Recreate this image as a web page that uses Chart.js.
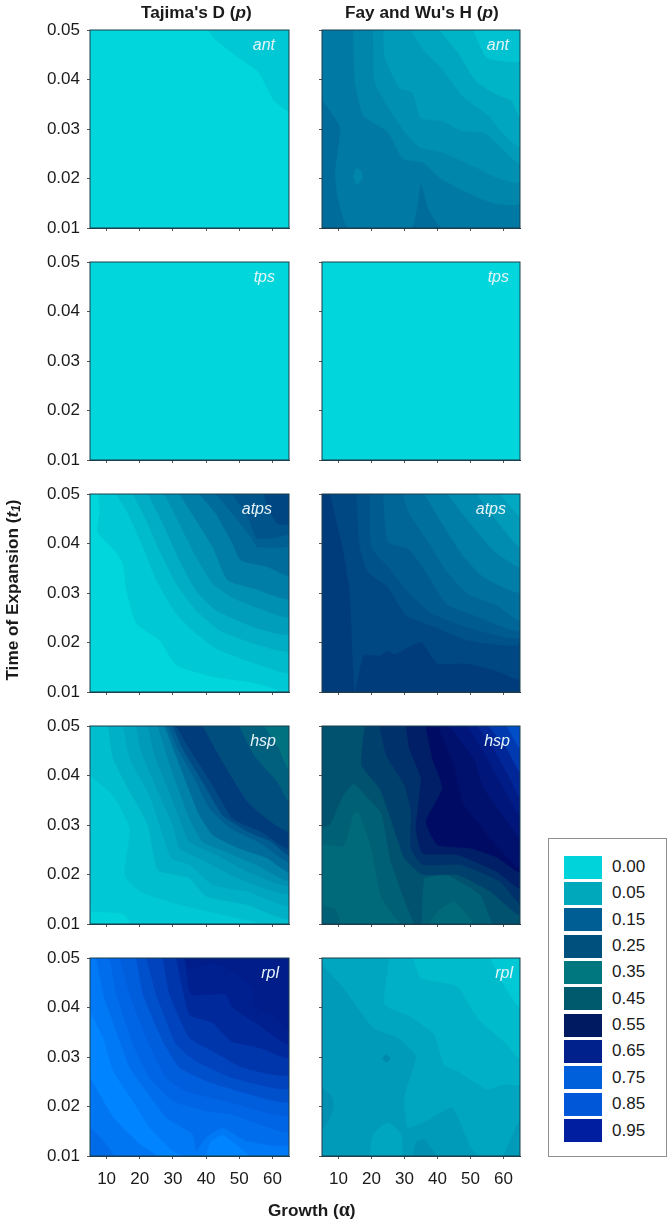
<!DOCTYPE html>
<html>
<head>
<meta charset="utf-8">
<style>
    html, body { margin: 0; padding: 0; background: #fff; }
    body { position: relative; width: 672px; height: 1224px; overflow: hidden; font-family: "Liberation Sans", Arial, sans-serif; color: #1a1a1a; }
    canvas { position: absolute; }
    .txt { position: absolute; white-space: nowrap; }
    .head { font-weight: bold; font-size: 17.2px; }
    .gene { font-style: italic; font-size: 16px; color: #e4f4f8; transform: translateX(-100%); }
    .key { position: absolute; left: 548px; top: 838px; width: 117px; height: 317px; border: 1px solid #8f8f8f; }
    .swatch { position: absolute; left: 564px; width: 38px; height: 23px; }
    .keytxt { font-size: 17px; left: 612px; }
</style>
<script src="https://cdn.jsdelivr.net/npm/chart.js@4/dist/chart.umd.min.js"></script>
</head>
<body>
<script>
    // each contour: [p value, outline in (growth, time) units], painted in order
    const square = [[5, .01], [65, .01], [65, .05], [5, .05]];

    const tajAnt = [
        [0, square],
        [.02, [[40.7, .05], [42.2, .0485], [48.2, .0452], [55.8, .0415], [60.4, .0358], [65, .0337], [65, .05]]]
    ];
    const tajTps = [[0, square]];
    const tajAtps = [
        [0, square],
        [.02, [[7.5, .05], [8, .0467], [7.3, .0423], [12.5, .0386], [15, .0359], [16, .0305], [19, .0238], [26, .0205], [31, .0154], [42, .0131], [53.5, .012], [60.5, .0107], [62.5, .01], [65, .01], [65, .05]]],
        [.04, [[13, .05], [16.5, .046], [21, .0393], [25, .0326], [31, .0258], [37, .0218], [43, .0188], [53.5, .0161], [65, .0141], [65, .05]]],
        [.06, [[18, .05], [22, .0447], [26, .0386], [31, .0319], [37, .0265], [44, .0225], [54.5, .0198], [65, .0184], [65, .05]]],
        [.08, [[22.5, .05], [27, .044], [32, .0366], [37, .0305], [43, .0265], [54.5, .0231], [65, .0218], [65, .05]]],
        [.10, [[27.5, .05], [32, .044], [37, .0373], [42, .0319], [47.5, .0292], [56.5, .0268], [65, .0252], [65, .05]]],
        [.125, [[32, .05], [37, .0447], [42, .0393], [46.5, .0326], [54.5, .0309], [65, .0289], [65, .05]]],
        [.15, [[38, .05], [43, .046], [48, .04], [50.5, .0366], [58.5, .0353], [65, .0336], [65, .05]]],
        [.175, [[43, .05], [48, .046], [53.5, .0413], [55.5, .0393], [65, .0396], [65, .05]]],
        [.20, [[48, .05], [52.5, .0454], [55.5, .041], [65, .042], [65, .05]]],
        [.23, [[57.5, .05], [58.5, .0474], [61.5, .044], [65, .044], [65, .05]]]
    ];
    const tajHsp = [
        [.02, square],
        [.004, [[5, .0125], [15, .012], [17, .01], [5, .01]]],
        [.035, [[5, .04], [12, .036], [17, .0293], [15.5, .0199], [20, .0166], [32, .0139], [45, .0119], [58, .01], [65, .01], [65, .05], [5, .05]]],
        [.055, [[10.5, .05], [12, .0434], [16.5, .0374], [22.5, .03], [25.5, .0209], [35, .0193], [40, .0156], [52.5, .0139], [65, .0112], [65, .05]]],
        [.07, [[15, .05], [17, .0434], [23, .036], [26, .03], [29.5, .0233], [35, .022], [42, .0179], [52.5, .0166], [65, .0139], [65, .05]]],
        [.085, [[19, .05], [20.5, .0448], [26, .036], [30, .03], [32, .0253], [40, .0226], [49.5, .0193], [65, .0163], [65, .05]]],
        [.10, [[22.5, .05], [24.5, .0441], [28.5, .0374], [32, .0313], [35, .0266], [43, .024], [52.5, .0206], [65, .0179], [65, .05]]],
        [.12, [[25.5, .05], [28.5, .0434], [32, .0367], [35, .0313], [39, .0266], [46, .0246], [55, .022], [65, .0189], [65, .05]]],
        [.15, [[27.5, .05], [30.5, .0448], [34, .0387], [38, .032], [42, .028], [50, .0253], [58.5, .0233], [65, .0206], [65, .05]]],
        [.18, [[28.5, .05], [31.5, .0454], [36.5, .0394], [41, .0334], [47.5, .0293], [56.5, .0263], [65, .0226], [65, .05]]],
        [.22, [[30, .05], [33, .0454], [39, .0387], [45, .032], [52.5, .0287], [59.5, .0267], [65, .024], [65, .05]]],
        [.25, [[31, .05], [35, .0454], [42, .0381], [48, .0313], [56.5, .0287], [65, .0253], [65, .05]]],
        [.28, [[39, .05], [45, .0428], [52.5, .0347], [59.5, .0307], [65, .0287], [65, .05]]],
        [.31, [[50, .05], [54.5, .0441], [61.5, .0387], [65, .0347], [65, .05]]],
        [.34, [[57.5, .05], [62, .0454], [65, .041], [65, .05]]]
    ];
    const tajRpl = [
        [.85, square],
        [.81, [[5, .0258], [12, .0178], [20, .0124], [25, .01], [5, .01]]],
        [.78, [[5, .0158], [9, .0131], [12, .01], [5, .01]]],
        [.82, [[5, .0393], [9, .0339], [12, .0272], [18, .0211], [23, .0157], [30, .011], [34, .01], [65, .01], [65, .05], [5, .05]]],
        [.85, [[40, .01], [41.5, .013], [45, .0142], [49, .0122], [53, .01]]],
        [.79, [[7, .05], [9, .0427], [12.5, .036], [17, .0279], [22, .0231], [28, .0178], [36, .0144], [37, .011], [40, .0138], [45, .0157], [52, .0131], [65, .0124], [65, .05]]],
        [.765, [[11, .05], [13, .0427], [18, .0326], [23, .0258], [30, .0211], [40, .0191], [48, .0184], [65, .0151], [65, .05]]],
        [.745, [[14, .05], [17, .0427], [22, .0339], [28, .0258], [34, .0231], [46, .0211], [65, .0184], [65, .05]]],
        [.725, [[19, .05], [21, .0427], [27, .0332], [32, .0279], [40, .0252], [50, .0231], [65, .0211], [65, .05]]],
        [.705, [[22, .05], [25, .0427], [31, .0326], [37, .0292], [48, .0258], [65, .0238], [65, .05]]],
        [.685, [[27, .05], [29, .0427], [35, .0339], [42, .0312], [51, .0279], [65, .0265], [65, .05]]],
        [.665, [[31, .05], [35, .0386], [42, .0369], [47.5, .0332], [56, .0319], [65, .0299], [65, .05]]],
        [.65, [[33.5, .05], [35.5, .0427], [46, .0427], [48, .04], [55.5, .0366], [65, .0326], [65, .05]]],
        [.635, [[34, .05], [35, .048], [42, .0491], [48, .0474], [54, .044], [55, .0403], [60, .0386], [65, .0359], [65, .05]]]
    ];

    const fayAnt = [
        [.15, square],
        [.13, [[5, .05], [5, .0364], [10.5, .0304], [9, .021], [10, .0156], [13, .01], [32, .01], [35, .0189], [37.5, .0135], [41.5, .01], [65, .01], [65, .05]]],
        [.115, [[14.5, .0205], [15.5, .022], [17, .0215], [17.2, .02], [15.5, .0187]]],
        [.115, [[14.5, .05], [15, .0395], [17.5, .0328], [25, .0294], [29.5, .024], [35.5, .0233], [41, .02], [48.5, .0173], [57, .015], [65, .015], [65, .05]]],
        [.10, [[20.5, .05], [21, .0395], [25, .0345], [30, .0295], [34.5, .0264], [41.5, .0253], [51.5, .0223], [57.5, .0203], [65, .0193], [65, .05]]],
        [.085, [[23.7, .05], [24, .0445], [28.5, .0383], [32.5, .0373], [35, .0322], [41.5, .0316], [47.5, .0296], [54.5, .0292], [65, .0231], [65, .05]]],
        [.07, [[32, .05], [36, .0458], [41, .0425], [48, .0364], [55.5, .0327], [60, .029], [65, .0264], [65, .05]]],
        [.05, [[40.7, .05], [46.5, .0452], [51.5, .0398], [57.5, .0371], [62.5, .0357], [65, .0324], [65, .05]]],
        [.03, [[50.8, .05], [55, .0444], [65, .0437], [65, .05]]]
    ];
    const fayTps = [[0, square]];
    const fayAtps = [
        [.25, square],
        [.225, [[7.5, .05], [11.5, .0386], [13.5, .03], [15, .01], [17.5, .0174], [22.5, .0174], [25, .0184], [27, .0177], [35, .0201], [40, .0158], [48.5, .0158], [57.5, .0144], [65, .0127], [65, .05]]],
        [.205, [[15.5, .05], [16.5, .0393], [19, .0342], [25, .0312], [30.5, .0255], [39.5, .0231], [49, .0205], [65, .0198], [65, .05]]],
        [.185, [[19.5, .05], [20, .0393], [25, .0353], [31.5, .0299], [38.5, .0258], [49, .0231], [65, .0211], [65, .05]]],
        [.165, [[23.5, .05], [25, .0403], [31, .039], [35.5, .0353], [42.5, .0279], [51, .0255], [65, .0225], [65, .05]]],
        [.145, [[29.5, .05], [31.5, .046], [37.5, .04], [42.5, .0346], [49, .0299], [58, .0275], [65, .0245], [65, .05]]],
        [.125, [[36, .05], [41.5, .044], [48, .0373], [54, .0332], [65, .0302], [65, .05]]],
        [.105, [[43, .05], [50, .044], [57, .0386], [65, .0353], [65, .05]]],
        [.085, [[52, .05], [57, .0454], [65, .0393], [65, .05]]],
        [.065, [[59, .05], [65, .0454], [65, .05]]]
    ];
    const fayHsp = [
        [.39, square],
        [.42, [[5, .0137], [9, .013], [10.5, .01], [5, .01]]],
        [.42, [[5, .0262], [11.5, .0258], [14.5, .0322], [16, .0328], [20, .0253], [23, .0155], [29, .01], [37, .01], [40.5, .013], [45, .0145], [50, .0112], [51, .01], [65, .01], [65, .05], [5, .05]]],
        [.455, [[5, .0295], [7.5, .0302], [11, .0355], [14.5, .0384], [19.5, .0351], [23, .0324], [26, .0223], [33, .01], [35, .01], [36, .0192], [43, .0199], [53, .0159], [57, .01], [65, .01], [65, .05], [5, .05]]],
        [.48, [[18, .05], [17, .0421], [22.5, .0374], [25.5, .032], [30, .0233], [35.5, .02], [46, .02], [56, .0166], [65, .0119], [65, .05]]],
        [.50, [[22.5, .05], [24.5, .0441], [30, .0381], [32, .0327], [32, .0253], [35.5, .022], [47, .022], [59, .0186], [65, .0142], [65, .05]]],
        [.525, [[30.5, .05], [31.5, .0454], [35, .0394], [33.5, .0293], [35.5, .0243], [46, .024], [58, .0206], [65, .0173], [65, .05]]],
        [.55, [[36.5, .05], [38.5, .0434], [41.5, .0374], [36.5, .0307], [40, .026], [50, .0253], [58, .0235], [65, .0206], [65, .05]]],
        [.57, [[40, .05], [45, .0421], [47.5, .0347], [56, .0273], [65, .0213], [65, .05]]],
        [.60, [[43.5, .05], [51, .0434], [54, .0374], [62, .03], [65, .0273], [65, .05]]],
        [.63, [[49, .05], [54, .0448], [59, .0387], [65, .032], [65, .05]]],
        [.66, [[52, .05], [57, .0454], [62, .0394], [65, .0354], [65, .05]]],
        [.69, [[55.5, .05], [61, .0454], [65, .0407], [65, .05]]],
        [.72, [[61, .05], [65, .0454], [65, .05]]]
    ];
    const fayRpl = [
        [.085, square],
        [.10, [[5, .0238], [8, .022], [8.5, .0198], [6.5, .0165], [5, .0155]]],
        [.11, [[23.3, .0297], [24.5, .0305], [25.7, .0297], [24.5, .0289]]],
        [.10, [[32.5, .01], [33.5, .0127], [36, .0133], [39, .0107], [39.5, .01]]],
        [.07, [[19.5, .01], [20.5, .0144], [25, .0167], [29, .0144], [29, .01]]],
        [.07, [[5, .0487], [11.5, .044], [20.5, .0359], [28, .0339], [33.5, .0302], [30, .0218], [31, .0158], [36.5, .0171], [44.5, .0198], [50, .012], [52.5, .01], [65, .01], [65, .05], [5, .05]]],
        [.085, [[60, .01], [62, .0131], [65, .0171], [65, .01]]],
        [.055, [[25.5, .05], [24, .0406], [31.5, .0383], [39, .0346], [42, .0285], [46, .0272], [55, .0235], [60, .0245], [65, .0245], [65, .05]]],
        [.04, [[32.5, .05], [35, .046], [46, .0443], [51, .039], [54, .0366], [61, .0326], [65, .0295], [65, .05]]],
        [.02, [[56, .05], [60, .0447], [65, .04], [65, .05]]]
    ];

    const xTicks = [10, 20, 30, 40, 50, 60];
    const yTicks = [.01, .02, .03, .04, .05];
    const genes = ['ant', 'tps', 'atps', 'hsp', 'rpl'];
    const tajima = [tajAnt, tajTps, tajAtps, tajHsp, tajRpl];
    const fayWu = [fayAnt, fayTps, fayAtps, fayHsp, fayRpl];
    const keyLabels = ['0.00', '0.05', '0.15', '0.25', '0.35', '0.45', '0.55', '0.65', '0.75', '0.85', '0.95'];
    const keyColors = ['#00d4da', '#00a8bc', '#005e94', '#00507e', '#00767f', '#005a6e', '#001a62', '#00208c', '#0060dc', '#0058d8', '#001ea0'];

    // colour ramp of the contour fill
    const rampP = [0, .05, .15, .25, .35, .45, .55, .65, .75, .85];
    const rampRGB = [[0, 214, 220], [0, 180, 200], [0, 108, 156], [0, 60, 124], [0, 120, 128], [0, 86, 112], [0, 12, 100], [0, 32, 144], [0, 96, 224], [0, 132, 255]];

    const rampColor = function (p) {
        let i = 0;
        while (i < rampP.length - 2 && p > rampP[i + 1]) i++;
        let t = (p - rampP[i]) / (rampP[i + 1] - rampP[i]);
        let c = rampRGB[i].map(function (v, k) {
            return Math.round(v + (rampRGB[i + 1][k] - v) * t);
        });
        return `rgb(${c[0]}, ${c[1]}, ${c[2]})`;
    };

    const frame = {
        id: 'frame',
        afterDraw: function (chart) {
            let a = chart.chartArea;
            let ctx = chart.ctx;
            ctx.save();
            ctx.strokeStyle = '#1d3f4c';
            ctx.lineWidth = 1;
            ctx.strokeRect(a.left, a.top, a.right - a.left, a.bottom - a.top);
            ctx.restore();
        }
    };

    const AXIS_W = 50, AXIS_H = 40, PAD = 8;

    const render_panel = function (contours, left, top, width, height, showY, showX) {
        let canvas = document.createElement('canvas');
        canvas.width = AXIS_W + width + PAD;
        canvas.height = PAD + height + AXIS_H;
        canvas.style.left = (left - AXIS_W) + 'px';
        canvas.style.top = (top - PAD) + 'px';
        document.body.appendChild(canvas);

        let datasets = contours.map(function (c) {
            return {
                data: c[1].concat([c[1][0]]).map(function (pt) {
                    return {x: pt[0], y: pt[1]};
                }),
                showLine: true,
                fill: 'shape',
                backgroundColor: rampColor(c[0]),
                borderColor: rampColor(c[0]),
                borderWidth: 0.5,
                pointRadius: 0,
                tension: 0.15
            };
        });
        // painted first to last
        datasets.forEach(function (d, i) {
            d.order = datasets.length - i;
        });

        const tickStyle = {drawOnChartArea: false, drawTicks: true, tickLength: 3, tickColor: '#555'};
        return new Chart(canvas, {
            type: 'scatter',
            data: {datasets: datasets},
            plugins: [frame],
            options: {
                responsive: false,
                animation: false,
                layout: {padding: {top: PAD, right: PAD, left: 0, bottom: 0}},
                plugins: {legend: {display: false}, tooltip: {enabled: false}, title: {display: false}},
                scales: {
                    x: {
                        type: 'linear', min: 5, max: 65,
                        afterBuildTicks: function (s) {
                            s.ticks = xTicks.map(function (v) { return {value: v}; });
                        },
                        afterFit: function (s) {
                            s.height = AXIS_H;
                            s.paddingLeft = 0;
                            s.paddingRight = 0;
                        },
                        grid: tickStyle,
                        border: {color: '#1d3f4c'},
                        ticks: {
                            display: showX, maxRotation: 0, autoSkip: false, padding: 10,
                            color: '#1a1a1a', font: {family: '"Liberation Sans"', size: 17}
                        }
                    },
                    y: {
                        type: 'linear', min: .01, max: .05,
                        afterBuildTicks: function (s) {
                            s.ticks = yTicks.map(function (v) { return {value: v}; });
                        },
                        afterFit: function (s) {
                            s.width = AXIS_W;
                            s.paddingTop = 0;
                            s.paddingBottom = 0;
                        },
                        grid: tickStyle,
                        border: {color: '#1d3f4c'},
                        ticks: {
                            display: showY, autoSkip: false, padding: 7,
                            color: '#1a1a1a', font: {family: '"Liberation Sans"', size: 17},
                            callback: function (v) { return v.toFixed(2); }
                        }
                    }
                }
            }
        });
    };

    const addText = function (cls, html, left, top, extra) {
        let el = document.createElement('div');
        el.className = 'txt ' + cls;
        el.innerHTML = html;
        el.style.left = left + 'px';
        el.style.top = top + 'px';
        if (extra) el.style.cssText += extra;
        document.body.appendChild(el);
        return el;
    };

    const rowTops = [29.5, 261.5, 493.5, 725.5, 958];
    const geneRight = {ant: 275, tps: 275, atps: 272, hsp: 276, rpl: 279};

    genes.forEach(function (g, i) {
        let last = i === genes.length - 1;
        render_panel(tajima[i], 90, rowTops[i], 199, 198, true, last);
        render_panel(fayWu[i], 322, rowTops[i], 198, 198, false, last);
        addText('gene', g, geneRight[g], rowTops[i] + 6);
        addText('gene', g, geneRight[g] + 234, rowTops[i] + 6);
    });

    addText('head', 'Tajima\'s D (<i>p</i>)', 141, 2);
    addText('head', 'Fay and Wu\'s H (<i>p</i>)', 345, 2);
    addText('head', 'Growth (<span style="font-family:\'Liberation Serif\';font-size:20px;line-height:1">&alpha;</span>)', 268, 1199);
    addText('head', 'Time of Expansion (<i>t<sub style="font-size:12px;vertical-align:-2px">1</sub></i>)', 12, 590,
        'transform:translate(-50%,-50%) rotate(-90deg);');

    let key = document.createElement('div');
    key.className = 'key';
    document.body.appendChild(key);
    keyLabels.forEach(function (label, i) {
        let top = 855.5 + i * 26.35;
        let sw = document.createElement('div');
        sw.className = 'swatch';
        sw.style.top = top + 'px';
        sw.style.background = keyColors[i];
        document.body.appendChild(sw);
        addText('keytxt', label, 612, top + 1.5);
    });
</script>
</body>
</html>
